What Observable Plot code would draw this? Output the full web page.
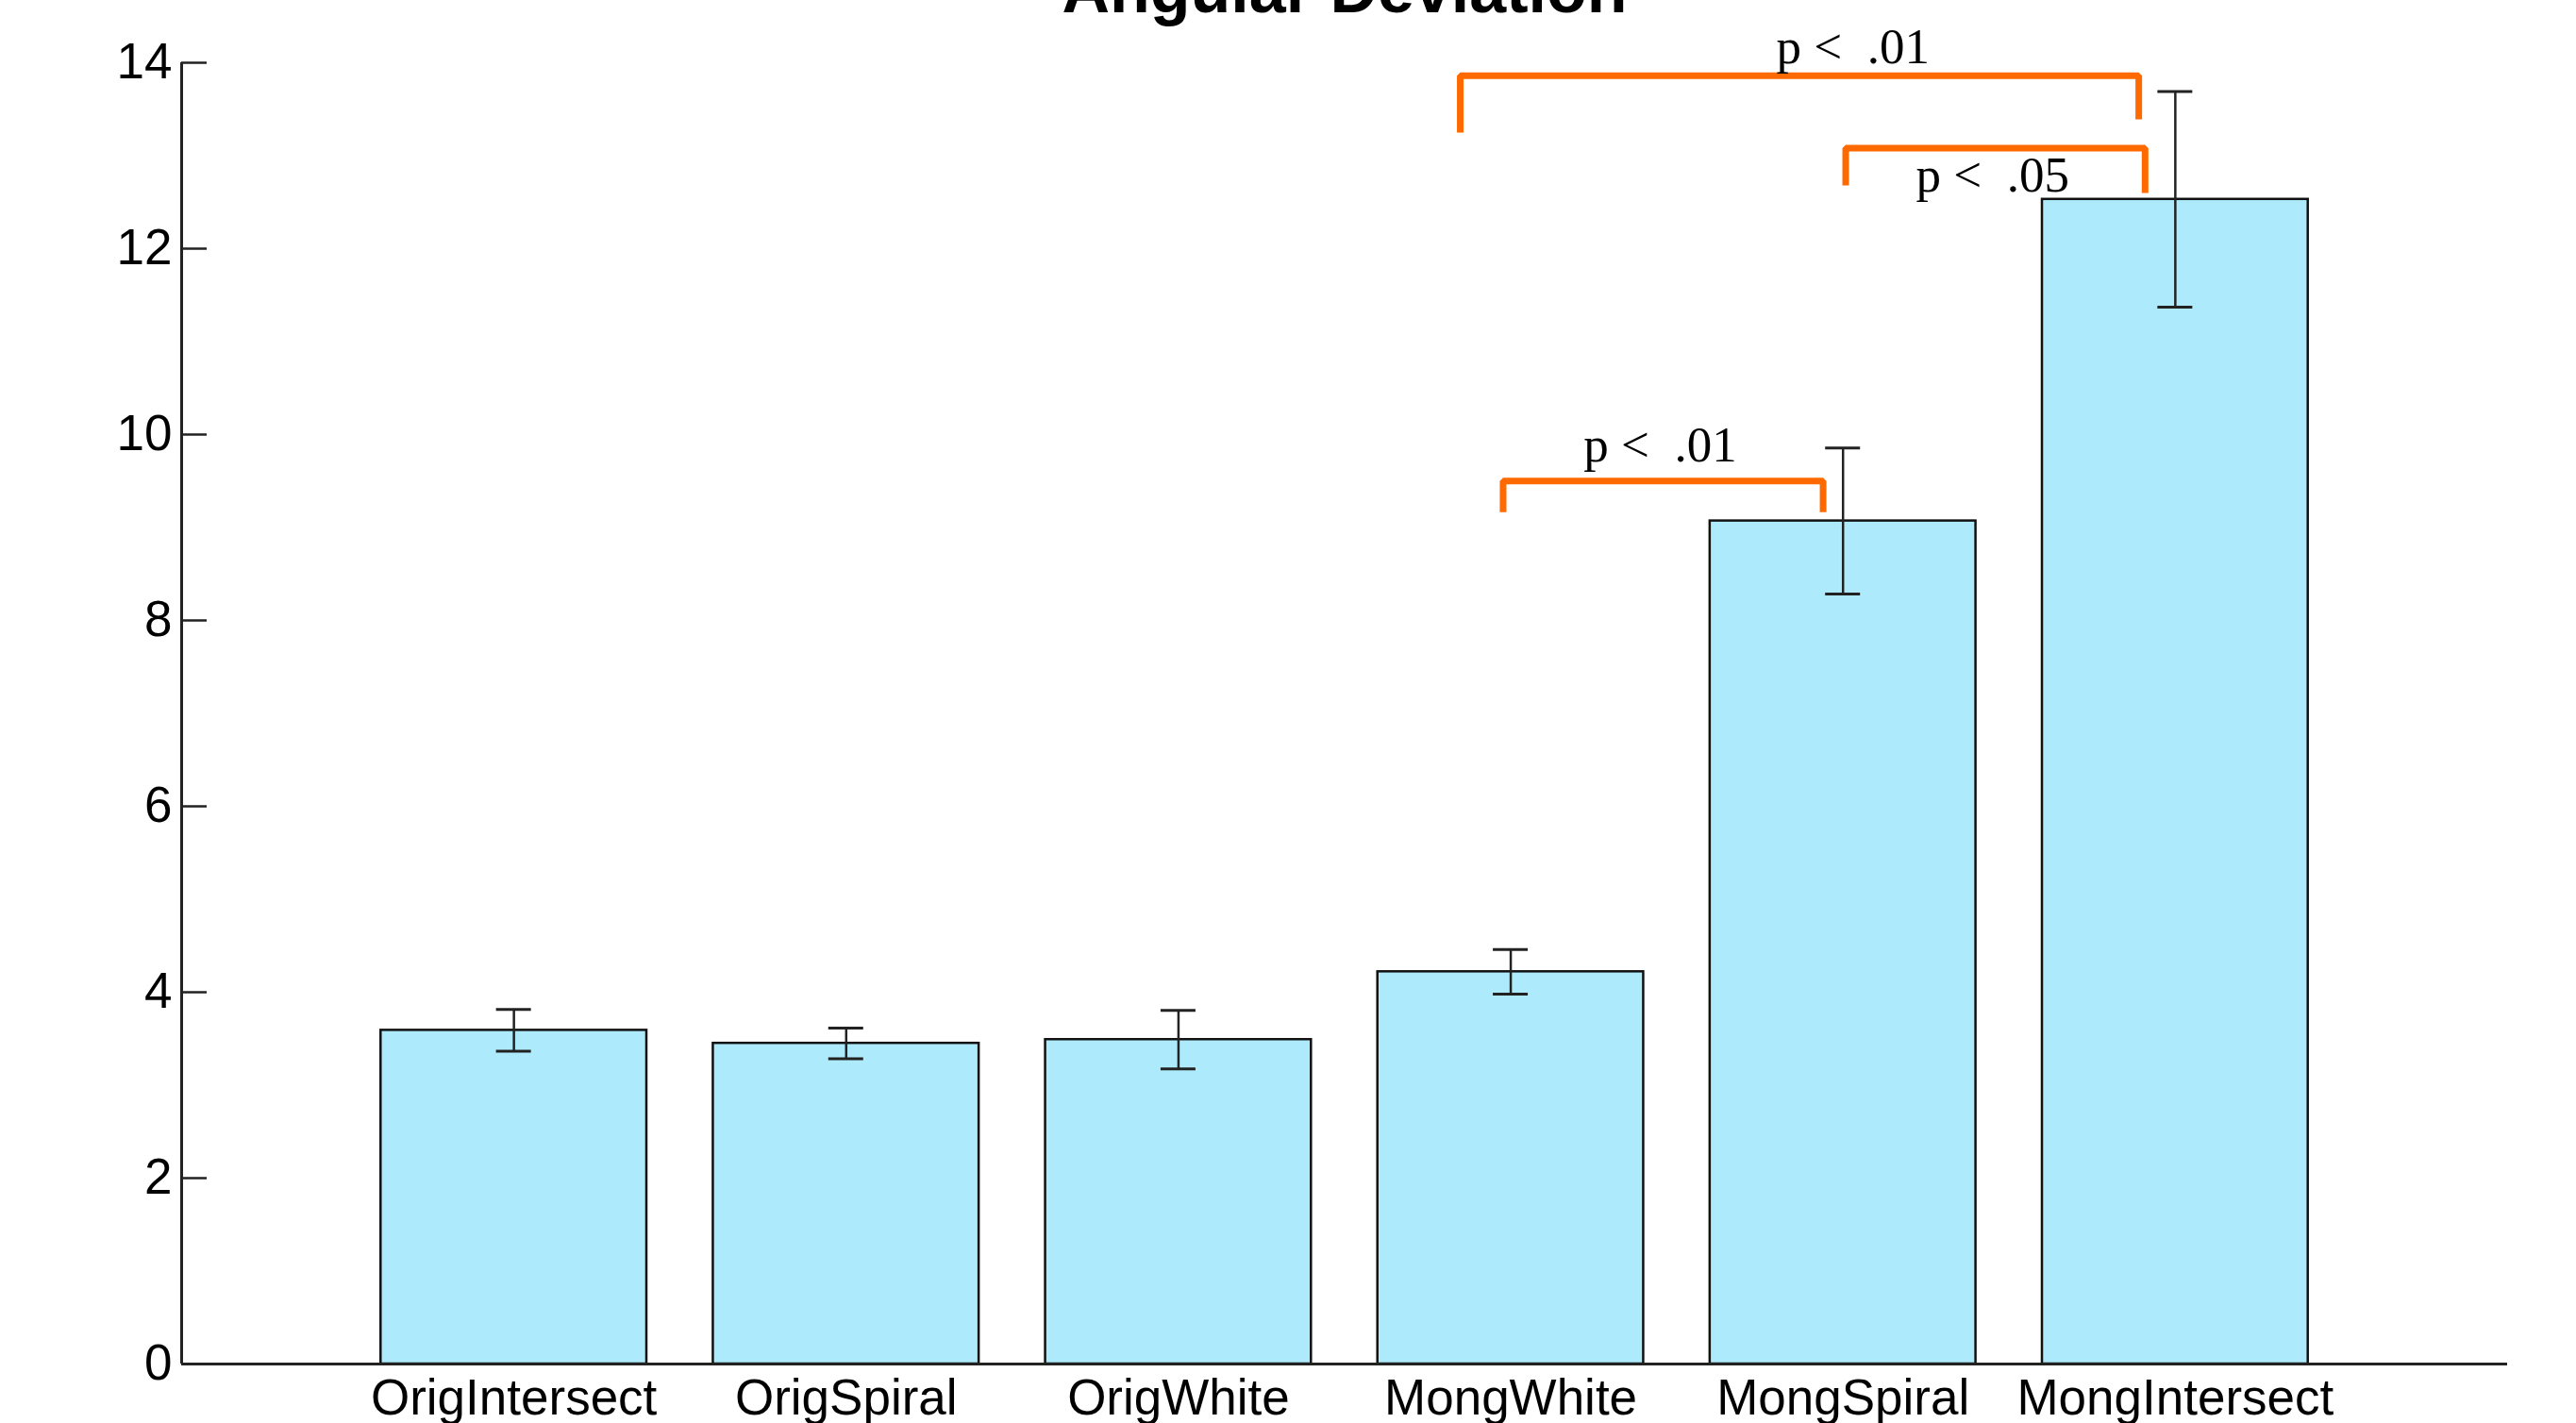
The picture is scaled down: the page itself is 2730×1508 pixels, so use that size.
<!DOCTYPE html>
<html>
<head>
<meta charset="utf-8">
<script src="https://cdn.jsdelivr.net/npm/d3@7"></script>
<script src="https://cdn.jsdelivr.net/npm/@observablehq/plot@0.6"></script>
<style>
  html, body { margin: 0; padding: 0; background: #fff; overflow: hidden; }
  svg text { white-space: pre; }
</style>
</head>
<body>
<div id="chart"></div>
<script>
// ---- data ----
const title = "Angular Deviation";
const categories = ["OrigIntersect", "OrigSpiral", "OrigWhite", "MongWhite", "MongSpiral", "MongIntersect"];
const means = [3.59, 3.45, 3.49, 4.22, 9.07, 12.53];
const errs  = [0.225, 0.165, 0.315, 0.24, 0.785, 1.16];
const yTicks = [0, 2, 4, 6, 8, 10, 12, 14];

// significance brackets: left leg bottom, bar height, right leg bottom
const bracketX1   = [3.848, 5.008, 3.977];
const bracketX2   = [5.89, 5.909, 4.94];
const bracketY    = [13.86, 13.08, 9.50];
const bracketYL   = [13.25, 12.68, 9.165];
const bracketYR   = [13.39, 12.60, 9.165];
const sigLabels   = ["p <  .01", "p <  .05", "p <  .01"];
const sigLabelX   = [5.03, 5.45, 4.45];
const sigLabelY   = [14.0, 12.61, 9.71];

// ---- tables built from the arrays ----
const rows = categories.map((c, i) => ({pos: i + 1, name: c, mean: means[i], lo: means[i] - errs[i], hi: means[i] + errs[i]}));
const bracketPts = bracketX1.flatMap((x1, i) => [
  {id: i, x: x1, y: bracketYL[i]},
  {id: i, x: x1, y: bracketY[i]},
  {id: i, x: bracketX2[i], y: bracketY[i]},
  {id: i, x: bracketX2[i], y: bracketYR[i]}
]);
const labels = sigLabels.map((t, i) => ({text: t, x: sigLabelX[i], y: sigLabelY[i]}));

const halfBar = 0.4;
const orange = "#FF6A00";

const chart = Plot.plot({
  width: 2730,
  height: 1508,
  marginLeft: 192,
  marginRight: 73,
  marginTop: 66,
  marginBottom: 63,
  style: {fontFamily: "'Liberation Sans', Arial, sans-serif", fontSize: "53px", color: "#000", background: "#fff"},
  x: {domain: [0, 7]},
  y: {domain: [0, 14]},
  marks: [
    Plot.rectY(rows, {x1: d => d.pos - halfBar, x2: d => d.pos + halfBar, y1: 0, y2: "mean", fill: "#ADEBFC", stroke: "#111", strokeWidth: 2.5}),
    Plot.ruleX(rows, {x: "pos", y1: "lo", y2: "hi", stroke: "#222", strokeWidth: 2.5}),
    Plot.ruleY(rows, {x1: "pos", x2: "pos", y: "lo", insetLeft: -18.5, insetRight: -18.5, stroke: "#222", strokeWidth: 3}),
    Plot.ruleY(rows, {x1: "pos", x2: "pos", y: "hi", insetLeft: -18.5, insetRight: -18.5, stroke: "#222", strokeWidth: 3}),
    Plot.ruleY(yTicks, {x1: 0, x2: 0, y: d => d, insetRight: -27, stroke: "#222", strokeWidth: 2.5}),
    Plot.ruleY([0], {stroke: "#222", strokeWidth: 3}),
    Plot.ruleX([0], {stroke: "#222", strokeWidth: 3}),
    Plot.axisY(yTicks, {tickSize: 0, tickPadding: 10, label: null, fontSize: 53, tickFormat: d => String(d)}),
    Plot.axisX(rows.map(d => d.pos), {tickSize: 0, tickPadding: 16, label: null, fontSize: 53, tickFormat: d => categories[d - 1]}),
    Plot.line(bracketPts, {x: "x", y: "y", z: "id", stroke: orange, strokeWidth: 7, strokeLinejoin: "miter", strokeLinecap: "butt"}),
    Plot.text(labels, {x: "x", y: "y", text: "text", lineAnchor: "bottom", textAnchor: "middle", fontFamily: "'Liberation Serif', 'Times New Roman', serif", fontSize: 53, fill: "#000"}),
    Plot.text([title], {frameAnchor: "top", dy: -54, lineAnchor: "bottom", fontWeight: "bold", fontSize: 70, fill: "#000"})
  ]
});
document.getElementById("chart").appendChild(chart);
</script>
</body>
</html>
